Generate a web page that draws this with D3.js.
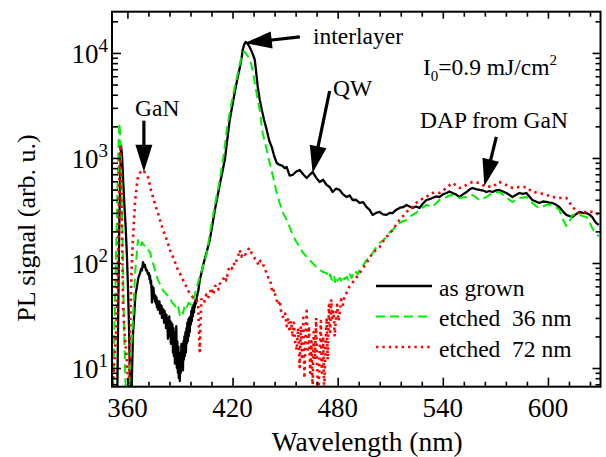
<!DOCTYPE html>
<html>
<head>
<meta charset="utf-8">
<script src="https://cdn.jsdelivr.net/npm/d3@7"></script>
<style>
  html, body { margin: 0; padding: 0; background: #fff; }
</style>
</head>
<body>
<svg id="chart" width="606" height="457"></svg>
<script>
// ---- data: photoluminescence spectra (wavelength in nm, PL signal in arb. u.) ----
const grownNm = [351.3,354.2,354.8,355.3,355.9,356.4,357.0,357.6,358.3,359.0,359.7,360.3,360.9,361.4,361.9,362.4,362.8,363.2,364.0,364.6,365.4,366.2,367.2,367.8,368.3,368.9,369.5,370.0,370.6,371.1,371.7,
  372.3,372.6,372.9,373.2,373.5,373.8,374.0,374.3,374.6,374.9,375.2,375.5,375.7,376.0,376.3,376.6,376.8,377.1,377.4,377.7,378.0,378.3,378.6,378.9,379.2,379.5,379.7,380.0,380.3,380.6,380.9,381.2,381.4,381.7,382.0,382.3,382.5,382.8,383.1,383.4,383.6,383.9,384.2,384.5,384.8,385.1,385.4,385.7,386.0,386.3,386.5,386.8,387.1,387.4,387.6,387.9,388.2,388.5,388.8,389.1,389.3,389.6,389.9,390.2,390.5,390.8,391.1,391.4,391.7,392.0,392.2,392.5,392.8,393.1,393.4,393.7,393.9,394.2,394.5,394.8,395.0,395.3,395.6,395.9,396.2,396.5,396.8,397.1,397.4,397.7,398.0,398.3,398.5,398.8,399.1,399.6,
  400.5,401.3,402.2,403.0,404.2,405.3,407.0,408.5,409.9,411.3,412.7,414.2,415.6,417.0,418.4,419.8,421.3,422.7,424.1,425.2,425.8,426.7,427.6,428.5,429.5,430.4,431.5,432.7,433.5,434.4,435.5,436.7,438.0,439.5,441.0,442.4,443.7,445.2,446.9,448.5,449.8,450.9,452.6,454.3,456.2,458.3,460.3,462.3,464.0,465.7,467.7,469.7,471.7,473.7,475.4,477.1,479.1,481.1,483.1,485.1,486.8,488.5,490.5,492.5,494.5,496.5,498.2,499.9,501.9,503.9,505.9,507.9,509.6,511.3,513.3,515.3,517.3,519.3,521.0,522.7,524.7,526.7,528.7,530.7,532.4,534.1,536.1,538.1,540.1,542.1,543.8,545.5,547.5,549.5,551.5,553.5,555.2,556.9,558.9,560.9,562.9,564.9,566.6,568.3,570.3,572.3,574.3,576.3,578.0,579.7,581.7,583.7,585.7,587.7,589.4,591.1,593.1,595.1,597.1,599.1,600.8,602.5,604.5,606.5,608.5,610.5,612.2,613.9,615.9,617.9,619.9,621.9,623.6,625.3,626.5,627.6,629.0];
const grownPL = [5,5,40,200,700,1300,1000,600,350,220,120,60,25,9,5,6,12,21,35,50,59,72,80,88,85,102,92,96,85,86,78,
  80,70,76,64,68,55,42,60,52,58,46,50,43,49,41,47,38,44,36,42,37,43,33,40,34,39,30,37,32,36,27,35,29,33,24,32,26,30,19,29,22,31,20,28,17,27,21,26,14,24,13,22,11,20,15,25,10,18,9,16,8,13,7.5,14,9,17,10,15,9.5,18,12,20,13,22,14,24,17,27,18,29,20,30,22,31,26,35,28,38,31,40,34,42,38,44,41,47,
  55,69,80,92,110,128,166,230,320,420,560,740,960,1500,2300,3100,4250,5600,7200,9000,10700,12100,12700,12300,11600,10800,9800,8580,6500,4740,3600,2870,2300,1850,1450,1270,1050,896,858,840,800,820,680,689,740,769,700,645,690,736,650,591,620,553,530,474,510,496,450,425,440,398,400,373,380,341,320,287,300,306,290,287,300,299,320,334,340,357,345,334,345,334,370,398,405,416,430,425,450,464,480,464,450,425,450,474,500,518,505,496,490,474,485,474,490,496,480,464,445,425,445,464,455,464,430,398,385,373,385,381,375,373,360,341,310,287,280,274,290,306,300,299,290,274,255,240,230];

const etch36Nm = [351.3,352.0,352.6,353.2,353.8,354.4,355.0,355.4,355.9,356.4,357.0,357.6,358.2,358.8,359.4,360.0,360.6,361.3,361.9,362.6,363.2,364.0,364.8,365.4,366.0,366.6,367.2,367.8,368.3,369.0,370.0,371.1,372.0,372.9,373.8,374.6,376.0,377.4,378.8,380.3,381.5,383.0,384.2,385.5,386.8,388.2,389.0,389.9,390.8,391.7,392.8,393.9,395.0,396.2,397.4,398.5,399.6,401.3,403.3,405.3,407.0,408.7,410.7,412.7,414.7,416.7,418.4,420.0,421.8,423.5,424.8,425.8,426.6,427.5,428.5,429.8,431.2,432.7,434.2,435.5,437.2,439.0,441.2,443.5,445.0,446.9,448.8,450.9,452.6,454.3,456.3,458.3,460.3,462.3,464.0,465.7,467.7,469.7,471.7,473.7,475.0,475.7,476.5,477.1,477.9,478.6,479.3,480.0,481.1,482.0,483.0,484.0,485.1,486.0,487.0,488.0,488.5,489.5,490.5,491.5,492.5,494.5,496.5,498.2,499.9,501.9,503.9,505.9,507.9,509.6,511.3,513.3,515.3,517.3,519.3,521.0,522.7,524.7,526.7,528.7,530.7,532.4,534.1,536.1,538.1,540.1,542.1,543.8,545.5,547.5,549.5,551.5,553.5,555.2,556.9,558.9,560.9,562.9,564.9,566.6,568.3,570.3,572.3,574.3,576.3,578.0,579.7,581.7,583.7,585.7,587.7,589.4,591.1,593.1,595.1,597.1,599.1,600.8,602.5,604.5,606.5,608.5,610.5,612.2,613.9,615.9,617.9,619.9,621.9,623.6,625.3,626.5,627.6,629.0];
const etch36PL = [5,8,25,70,200,600,1500,2150,1700,800,250,70,20,8,5,4,5,8,14,20,29,60,100,124,166,150,155,148,158,150,145,142,132,127,110,100,82,69,62,55,52,49,47,42,40,36,38,32,35,33,40,38,42,40,43,50,59,74,95,124,190,274,420,617,1000,1850,2700,3800,5200,7000,8700,10000,10300,10000,9400,8800,7200,5180,3700,2870,1730,1300,896,620,480,373,300,257,220,185,160,142,125,114,106,100,92,86,82,80,72,78,70,69,76,66,73,68,72,68,76,70,74,69,78,72,77,74,82,78,86,95,107,115,124,140,155,165,177,195,206,225,240,250,257,275,287,300,320,340,357,350,341,370,398,410,425,440,444,430,416,420,425,440,444,420,398,410,425,445,464,470,474,450,425,400,381,400,416,420,425,400,373,350,334,345,357,360,357,340,320,260,225,245,287,290,287,280,274,250,215,200,190,180];

const etch72Nm = [351.3,352.0,352.6,353.2,353.8,354.4,355.0,355.5,355.9,356.4,357.0,357.5,358.1,358.7,359.3,359.9,360.5,361.0,361.6,362.1,362.6,363.4,364.3,365.2,366.0,367.0,367.9,368.9,369.8,370.7,371.7,372.7,373.6,374.6,376.0,377.4,378.8,380.3,381.7,383.1,384.5,386.0,387.4,388.8,390.2,391.7,393.1,394.5,396.0,397.4,398.5,399.6,400.4,400.9,401.3,401.7,402.2,403.0,404.0,405.0,406.0,407.0,408.0,409.0,410.0,411.0,412.0,413.0,414.4,415.5,416.5,417.5,418.4,419.5,420.5,421.5,422.4,423.3,424.1,425.0,426.0,427.0,428.1,429.0,429.8,430.8,431.8,432.8,433.8,434.8,435.8,437.2,438.3,439.5,440.5,441.5,442.0,442.9,443.8,444.5,445.2,446.0,446.9,447.5,448.1,449.0,450.0,450.9,451.8,452.6,453.4,454.3,455.0,455.7,456.6,457.4,458.3,459.0,459.7,460.4,461.0,461.7,462.3,463.0,463.6,464.3,465.0,465.7,466.3,467.0,467.7,468.3,469.0,469.7,470.4,471.0,471.7,472.3,473.0,473.7,474.3,475.0,475.7,476.3,477.0,477.7,478.3,479.0,479.7,480.4,481.1,482.0,483.0,484.0,485.1,486.8,488.5,490.5,492.5,494.5,496.5,498.2,499.9,501.9,503.9,505.9,507.9,509.6,511.3,513.3,515.3,517.3,519.3,521.0,522.7,524.7,526.7,528.7,530.7,532.4,534.1,536.1,538.1,540.1,542.1,543.8,545.5,547.5,549.5,551.5,553.5,555.2,556.9,558.9,560.9,562.9,564.9,566.6,568.3,570.3,572.3,574.3,576.3,578.0,579.7,581.7,583.7,585.7,587.7,589.4,591.1,593.1,595.1,597.1,599.1,600.8,602.5,604.5,606.5,608.5,610.5,612.2,613.9,615.9,617.9,619.9,621.9,623.6,625.3,626.5,627.6,629.0];
const etch72PL = [6,8,12,18,25,60,250,800,1330,700,150,40,25,18,14,10,7,8,25,60,110,200,373,520,659,720,740,769,730,700,659,560,480,425,350,299,250,206,180,155,130,114,100,86,78,69,62,55,50,47,46,44,40,20,14.5,25,45,47,43,50,46,52,58,50,60,62,56,66,69,75,68,85,92,88,100,95,107,118,133,115,125,120,124,135,139,125,118,110,107,95,105,100,88,80,72,70,60,52,56,48,44,40,44,36,33,30,33,25,30,22,28,19.7,27,18,14.8,24,10.2,25,12,30,8,20,35,15,25,9,18,6,22,12,30,10,5,14,28,9,20,6,16,30,12,40,22,45,30,35,20,30,40,28,33,45,40,50,52,60,65,72,80,90,100,112,124,133,142,160,177,190,206,230,257,280,306,325,341,370,398,410,425,450,464,470,464,490,518,550,578,550,518,530,553,575,591,585,578,550,529,535,529,560,591,570,553,535,518,525,529,525,529,500,474,470,464,455,444,435,425,420,416,420,416,380,341,320,299,305,306,308,306,302,299,290];

// axis ticks and labels
const xLabelValues = [360, 420, 480, 540, 600];
const xMinorValues = [372, 384, 396, 408, 432, 444, 456, 468, 492, 504, 516, 528, 552, 564, 576, 588, 612, 624];
const yDecadeExponents = [1, 2, 3, 4];

const seriesNames = ["as grown", "etched  36 nm", "etched  72 nm"];

// ---- pick an installed serif face (Times-like first) ----
function fontInstalled(name) {
  const ctx = document.createElement("canvas").getContext("2d");
  const probe = "mmmmmmmmmmlllliiiWWQQ1090";
  return ["monospace", "sans-serif"].some(base => {
    ctx.font = `40px ${base}`;
    const w0 = ctx.measureText(probe).width;
    ctx.font = `40px "${name}", ${base}`;
    return ctx.measureText(probe).width !== w0;
  });
}
const serifCandidates = ["Liberation Serif", "Times New Roman", "Tinos", "Nimbus Roman", "Nimbus Roman No9 L",
  "FreeSerif", "DejaVu Serif", "Noto Serif", "Times"];
const serifFace = serifCandidates.find(fontInstalled);
const FONT = serifFace ? `"${serifFace}", serif` : "serif";

// ---- layout ----
const svg = d3.select("#chart");
const plot = { left: 112, right: 600.5, top: 11.7, bottom: 386.7 };

const x = d3.scaleLinear().domain([351.2, 630]).range([plot.left, plot.right]);
const y = d3.scaleLog().domain([6.64, 24700]).range([plot.bottom, plot.top]);

const yMajor = yDecadeExponents.map(e => Math.pow(10, e));
const yMinor = [];
for (let e = 0; e <= 4; e++) {
  for (let m = 2; m <= 9; m++) {
    const v = m * Math.pow(10, e);
    if (v >= y.domain()[0] && v <= y.domain()[1]) yMinor.push(v);
  }
}

svg.append("defs").append("clipPath").attr("id", "plotClip")
  .append("rect")
  .attr("x", plot.left).attr("y", plot.top)
  .attr("width", plot.right - plot.left).attr("height", plot.bottom - plot.top);

// ---- spectra ----
const line = d3.line().x(d => x(d[0])).y(d => y(d[1]));
const series = [
  { nm: grownNm, pl: grownPL, color: "#000000", width: 2.3, dash: null },
  { nm: etch36Nm, pl: etch36PL, color: "#00ee00", width: 2, dash: "9,5" },
  { nm: etch72Nm, pl: etch72PL, color: "#ff0000", width: 2.6, dash: "2.4,4" }
];

const curves = svg.append("g").attr("clip-path", "url(#plotClip)");
series.forEach(s => {
  curves.append("path")
    .datum(d3.zip(s.nm, s.pl))
    .attr("d", line)
    .attr("fill", "none")
    .attr("stroke", s.color)
    .attr("stroke-width", s.width)
    .attr("stroke-linejoin", "round")
    .attr("stroke-dasharray", s.dash);
});

// ---- axes (inward ticks on all four sides) ----
function tickAxis(axisFn, scale, values, size, transform) {
  const g = svg.append("g").attr("transform", transform)
    .call(axisFn(scale).tickValues(values).tickSize(-size).tickFormat(""));
  g.select(".domain").remove();
  g.selectAll(".tick line").attr("stroke", "#000").attr("stroke-width", 1.6);
  g.selectAll(".tick text").remove();
  return g;
}
tickAxis(d3.axisBottom, x, xLabelValues, 9, `translate(0,${plot.bottom})`);
tickAxis(d3.axisBottom, x, xMinorValues, 5, `translate(0,${plot.bottom})`);
tickAxis(d3.axisTop, x, xLabelValues, 7, `translate(0,${plot.top})`);
tickAxis(d3.axisTop, x, xMinorValues, 5, `translate(0,${plot.top})`);
tickAxis(d3.axisLeft, y, yMajor, 9, `translate(${plot.left},0)`);
tickAxis(d3.axisLeft, y, yMinor, 6, `translate(${plot.left},0)`);
tickAxis(d3.axisRight, y, yMajor, 8, `translate(${plot.right},0)`);
tickAxis(d3.axisRight, y, yMinor, 5, `translate(${plot.right},0)`);

svg.append("rect")
  .attr("x", plot.left).attr("y", plot.top)
  .attr("width", plot.right - plot.left).attr("height", plot.bottom - plot.top)
  .attr("fill", "none").attr("stroke", "#000").attr("stroke-width", 2);

const texts = svg.append("g").style("font-family", FONT);

// tick labels
texts.append("g").selectAll("text").data(xLabelValues).join("text")
  .attr("x", d => x(d)).attr("y", 417)
  .attr("text-anchor", "middle").attr("font-size", 27)
  .style("font-family", FONT)
  .text(d => d);

const yLab = texts.append("g").selectAll("text").data(yDecadeExponents).join("text")
  .attr("x", 108).attr("y", d => y(Math.pow(10, d)) + 10)
  .attr("text-anchor", "end").attr("font-size", 27)
  .style("font-family", FONT);
yLab.append("tspan").text("10");
yLab.append("tspan").attr("font-size", 19).attr("dy", -11).text(d => d);

// axis titles
texts.append("text")
  .attr("x", (plot.left + plot.right) / 2 + 11).attr("y", 451)
  .attr("text-anchor", "middle").attr("font-size", 27.5)
  .style("font-family", FONT)
  .text("Wavelength (nm)");
texts.append("text")
  .attr("transform", "translate(35,228) rotate(-90)")
  .attr("text-anchor", "middle").attr("font-size", 26)
  .style("font-family", FONT)
  .text("PL signal (arb. u.)");

// ---- annotations ----
function arrow(tip, dxTail, dyTail) {
  const x2 = x(tip[0]), y2 = y(tip[1]);
  const x1 = x2 + dxTail, y1 = y2 + dyTail;
  const L = Math.hypot(x2 - x1, y2 - y1), ux = (x2 - x1) / L, uy = (y2 - y1) / L;
  const hl = 27, hw = 8.5;
  const bx = x2 - ux * hl, by = y2 - uy * hl;
  svg.append("line").attr("x1", x1).attr("y1", y1).attr("x2", bx + ux * 2).attr("y2", by + uy * 2)
    .attr("stroke", "#000").attr("stroke-width", 3.2);
  svg.append("polygon")
    .attr("points", [[x2, y2], [bx - uy * hw, by + ux * hw], [bx + uy * hw, by - ux * hw]].map(p => p.join(",")).join(" "))
    .attr("fill", "#000");
}
arrow([369.4, 740], 0, -51);       // GaN
arrow([427.0, 12450], 55, -6);     // interlayer
arrow([465.7, 720], 17, -82);      // QW
arrow([563.7, 541], 12, -49);      // DAP from GaN

const annFont = 23.5;
function label(txt, px, py) {
  texts.append("text").attr("x", px).attr("y", py).attr("font-size", annFont)
    .style("font-family", FONT).text(txt);
}
label("GaN", 135, 116);
label("interlayer", 313, 44);
label("QW", 333, 96);
label("DAP from GaN", 420, 128);

const fluence = texts.append("text").attr("x", 423).attr("y", 75)
  .attr("font-size", annFont).style("font-family", FONT);
fluence.append("tspan").text("I");
fluence.append("tspan").attr("font-size", 15).attr("dy", 6).text("0");
fluence.append("tspan").attr("dy", -6).text("=0.9 mJ/cm");
fluence.append("tspan").attr("font-size", 15).attr("dy", -10).text("2");

// ---- legend ----
const legend = svg.append("g");
series.forEach((s, i) => {
  const ly = 286 + i * 30.5;
  legend.append("line")
    .attr("x1", 376).attr("x2", 432).attr("y1", ly).attr("y2", ly)
    .attr("stroke", s.color).attr("stroke-width", s.width)
    .attr("stroke-dasharray", s.dash);
  legend.append("text")
    .attr("x", 439).attr("y", ly + 9.5)
    .attr("font-size", annFont).style("font-family", FONT)
    .style("white-space", "pre")
    .text(seriesNames[i]);
});
</script>
</body>
</html>
